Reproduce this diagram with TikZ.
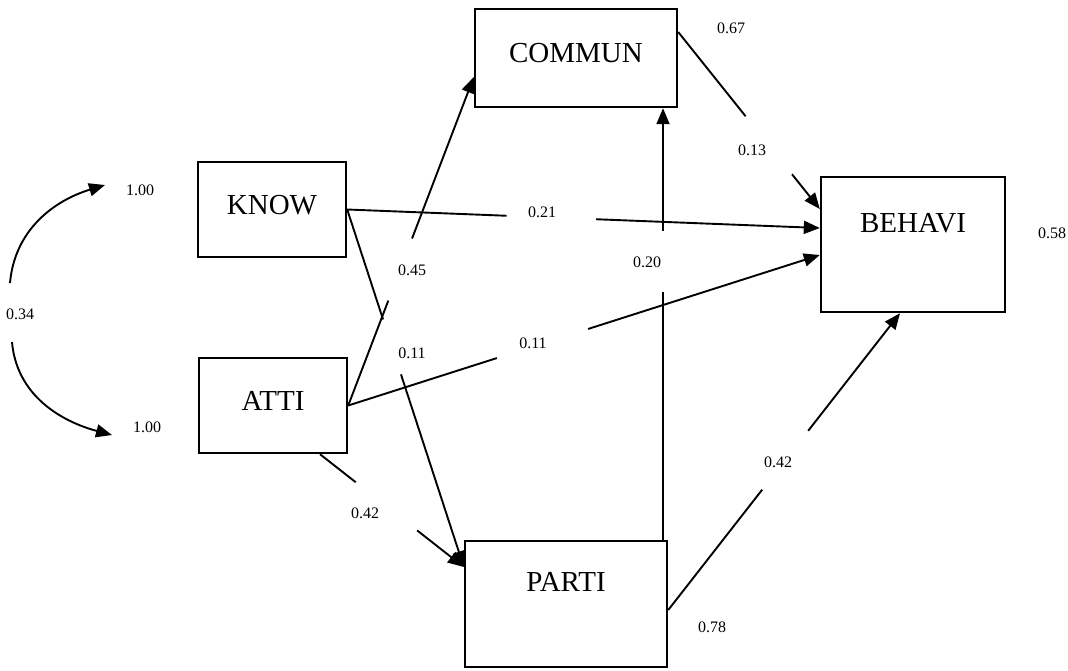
\documentclass[tikz,border=0pt]{standalone}
\usepackage{fontspec}
\setmainfont{Liberation Serif}
\usetikzlibrary{arrows.meta}

\tikzset{
  box/.style={draw, line width=1.2pt, inner sep=0pt,
    font=\fontsize{14.5}{16}\selectfont, text height=9.5pt, text depth=5pt},
  raised/.style={text depth=22pt},
  coef/.style={font=\fontsize{8}{9}\selectfont, inner sep=1pt},
  conn/.style={line width=0.95pt},
  arr/.style={-{Triangle[length=8pt,width=6.5pt]}},
}

%% a path with a break in it: #3 cut off the end of the first piece, #4 cut off the start of the arrowed piece
\def\GapPath#1#2#3#4{%
  \draw[conn, shorten >=#3] #1 -- #2;
  \draw[conn, arr, shorten <=#4] #1 -- #2;
}

\begin{document}
\begin{tikzpicture}[x=0.5pt, y=-0.5pt]
\useasboundingbox (0,0) rectangle (1068,670);

%% variables
\node[box, minimum width=74pt, minimum height=47.5pt] (know) at (272,209.5) {KNOW};
\node[box, minimum width=74pt, minimum height=47.5pt] (atti) at (273,405.5) {ATTI};
\node[box, minimum width=101pt, minimum height=49pt] (commun) at (576,58) {COMMUN};
\node[box, raised, minimum width=92pt, minimum height=67.5pt] (behavi) at (913,244.5) {BEHAVI};
\node[box, raised, minimum width=101pt, minimum height=63pt] (parti) at (566,604) {PARTI};

%% coefficients
\node[coef] (cov) at (20,314) {0.34};
\node[coef] (varknow) at (140,190) {1.00};
\node[coef] (varatti) at (147,427) {1.00};
\node[coef] (rcommun) at (731,28) {0.67};
\node[coef] (rbehavi) at (1052,233) {0.58};
\node[coef] (rparti) at (712,627) {0.78};
\node[coef] (kb) at (542,212) {0.21};
\node[coef] (ac) at (412,270) {0.45};
\node[coef] (kp) at (412,353) {0.11};
\node[coef] (ab) at (533,343) {0.11};
\node[coef] (ap) at (365,513) {0.42};
\node[coef] (cb) at (752,150) {0.13};
\node[coef] (pc) at (647,262) {0.20};
\node[coef] (pb) at (778,462) {0.42};

%% correlation between the two exogenous variables
\coordinate (covtop) at (10,283);
\coordinate (covbot) at (12,342);
\coordinate (tipknow) at (105,185);
\coordinate (tipatti) at (112,435);
\draw[conn, arr] (covtop) to[out=85, in=197] (tipknow);
\draw[conn, arr] (covbot) to[out=-85, in=165] (tipatti);

%% paths
\GapPath{(know.east)}{([yshift=8.25pt]behavi.west)}{156.7pt}{124.6pt}
\GapPath{(atti.east)}{([yshift=-5.25pt]behavi.west)}{169.5pt}{125.9pt}
\GapPath{(atti.east)}{([yshift=-9.5pt]commun.west)}{119.7pt}{89.4pt}
\GapPath{(know.east)}{([yshift=18.5pt]parti.west)}{130.2pt}{86.7pt}
\GapPath{([xshift=23.5pt]atti.south)}{([yshift=18.5pt]parti.west)}{68.7pt}{61.7pt}
\GapPath{([yshift=13pt]commun.east)}{([yshift=17.75pt]behavi.west)}{59.4pt}{91.1pt}
\GapPath{([xshift=48.5pt]parti.north)}{([xshift=43.5pt]commun.south)}{92pt}{154.5pt}
\GapPath{([yshift=-3pt]parti.east)}{([xshift=-6.5pt]behavi.south)}{112pt}{113.7pt}

\end{tikzpicture}
\end{document}
